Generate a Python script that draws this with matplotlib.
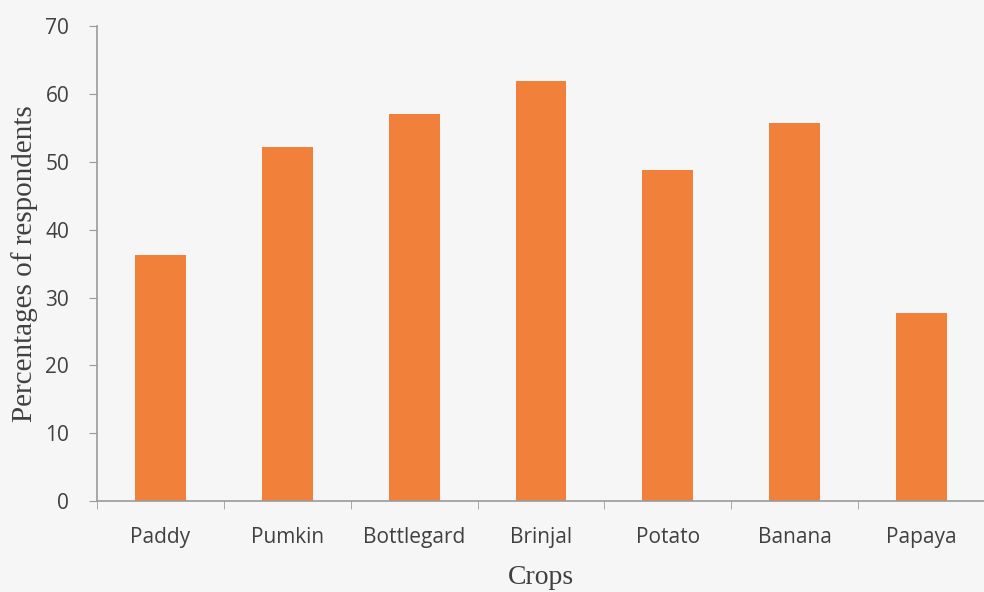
import matplotlib
matplotlib.use("Agg")
import matplotlib.pyplot as plt
import numpy as np

# crop share of respondents (%)
crops = ["Paddy", "Pumkin", "Bottlegard", "Brinjal", "Potato", "Banana", "Papaya"]
percent = [36.2, 52.2, 57.0, 61.9, 48.8, 55.7, 27.7]
yticks = [0, 10, 20, 30, 40, 50, 60, 70]

bg = "#f6f6f6"
axis_col = "#9a9a9a"
text_col = "#404040"

fig = plt.figure(figsize=(9.84, 5.92), dpi=100, facecolor=bg)
ax = fig.add_axes([0.0986, 0.1537, 0.9024, 0.802])
ax.set_facecolor(bg)

x = np.arange(len(crops))
ax.bar(x, percent, width=0.4, color="#f1803b", zorder=2)

ax.set_xlim(-0.5, len(crops) - 0.5)
ax.set_ylim(0, 70)
ax.set_yticks(yticks)
ax.set_yticklabels([str(v) for v in yticks], fontsize=15, color=text_col,
                   family="Open Sans")

# category labels centred, tick marks on the boundaries
ax.set_xticks(x)
ax.set_xticklabels(crops, fontsize=15, color=text_col, family="Open Sans")
ax.tick_params(axis="x", length=0, pad=19)
ax.set_xticks(np.arange(-0.5, len(crops), 1), minor=True)
ax.tick_params(axis="x", which="minor", length=6, color=axis_col)
ax.tick_params(axis="y", length=6, color=axis_col, pad=14)

for s in ["top", "right"]:
    ax.spines[s].set_visible(False)
for s in ["left", "bottom"]:
    ax.spines[s].set_color(axis_col)
    ax.spines[s].set_linewidth(1.2)

ax.set_ylabel("Percentages of respondents", fontsize=21, family="Liberation Serif",
              color=text_col)
ax.set_xlabel("Crops", fontsize=20, family="Liberation Serif", color=text_col)
ax.yaxis.set_label_coords(-0.066, 0.5)
ax.xaxis.set_label_coords(0.5, -0.135)

fig.savefig("out.png", dpi=100, facecolor=bg)
